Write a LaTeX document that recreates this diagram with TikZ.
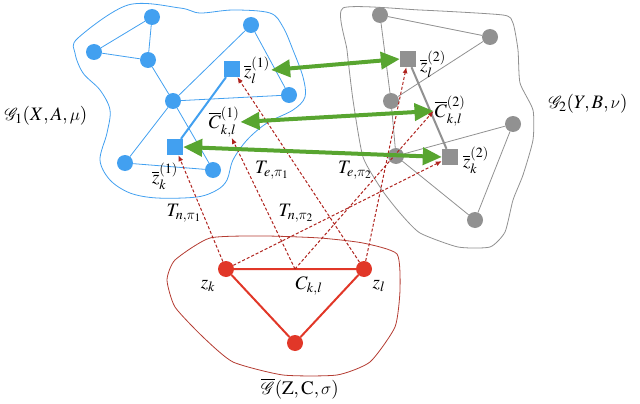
\documentclass[tikz,border=0pt]{standalone}
\usepackage{mathptmx}
\usepackage{mathrsfs}
\usetikzlibrary{arrows.meta,calc}

% italic greek letters
\DeclareSymbolFont{cmletters}{OML}{cmm}{m}{it}
\DeclareMathSymbol{\mu}{\mathord}{cmletters}{"16}
\DeclareMathSymbol{\nu}{\mathord}{cmletters}{"17}
\DeclareMathSymbol{\pi}{\mathord}{cmletters}{"19}
\DeclareMathSymbol{\sigma}{\mathord}{cmletters}{"1B}

\definecolor{gblue}{RGB}{66,160,240}
\definecolor{ggray}{RGB}{145,145,145}
\definecolor{gred}{RGB}{225,55,40}
\definecolor{ggreen}{RGB}{88,165,48}
\definecolor{gdash}{RGB}{175,35,30}
\definecolor{rline}{RGB}{180,60,50}

\tikzset{
  bnode/.style={circle,fill=gblue,inner sep=0pt,minimum size=16pt},
  bsq/.style={rectangle,fill=gblue,inner sep=0pt,minimum size=16pt},
  gnode/.style={circle,fill=ggray,inner sep=0pt,minimum size=16pt},
  gsq/.style={rectangle,fill=ggray,inner sep=0pt,minimum size=16pt},
  rnode/.style={circle,fill=gred,inner sep=0pt,minimum size=16pt},
  bedge/.style={gblue,line width=0.8pt},
  gedge/.style={ggray,line width=0.8pt},
  redge/.style={gred,line width=2pt},
  match/.style={ggreen,line width=4pt,{Triangle[length=19pt,width=17pt]}-{Triangle[length=19pt,width=17pt]}},
  transport/.style={gdash,line width=1pt,dash pattern=on 3pt off 2pt,-{Latex[length=6pt,width=5pt]}},
  lbl/.style={inner sep=1pt}
}

\begin{document}
\begin{tikzpicture}[x=1pt,y=-1pt,font=\fontsize{19}{22}\selectfont]
\useasboundingbox (0,0) rectangle (640,404);

% outlines
\draw[gblue,line width=0.8pt] plot[smooth cycle,tension=0.55] coordinates {(78,38) (128,5) (180,8) (200,13) (233,10) (270,13) (283,27) (293,50) (303,77) (305,97) (293,110) (267,123) (247,140) (233,160) (227,180) (217,190) (197,197) (157,198) (130,193) (110,180) (100,160) (107,133) (110,110) (100,90) (83,73) (75,53)};
\draw[ggray,line width=0.8pt] plot[smooth cycle,tension=0.35] coordinates {(343,8) (420,10) (503,15) (513,23) (518,50) (520,83) (533,110) (533,140) (523,175) (513,200) (505,232) (490,247) (458,247) (420,233) (400,213) (382,190) (363,157) (353,100) (347,50)};
\draw[rline,line width=0.8pt] plot[smooth cycle,tension=0.35] coordinates {(210,238) (265,236) (320,238) (363,243) (397,254) (400,290) (395,327) (370,362) (337,375) (283,375) (233,362) (203,337) (175,307) (167,280) (175,260)};

% graph 1
\node[bnode] (b1) at (152,17) {};
\node[bnode] (b2) at (94,52) {};
\node[bnode] (b3) at (148,60) {};
\node[bnode] (b4) at (251,25) {};
\node[bnode] (b5) at (173,101) {};
\node[bnode] (b6) at (289,95) {};
\node[bnode] (b7) at (125,163) {};
\node[bnode] (b8) at (213,170) {};
\node[bsq] (zl1) at (232,69) {};
\node[bsq] (zk1) at (175,147) {};
\foreach \a/\b in {b1/b2,b2/b3,b1/b3,b3/b5,b5/b4,b4/b6,b5/b6,b5/b7,b5/b8,b7/b8}
  \draw[bedge] (\a) -- (\b);
\draw[gblue,line width=2pt] (zl1) -- (zk1);

% graph 2
\node[gnode] (g1) at (380,15) {};
\node[gnode] (g2) at (490,37) {};
\node[gnode] (g3) at (391,101) {};
\node[gnode] (g4) at (513,124) {};
\node[gnode] (g5) at (396,156) {};
\node[gnode] (g6) at (475,220) {};
\node[gsq] (zl2) at (408,59) {};
\node[gsq] (zk2) at (450,157) {};
\foreach \a/\b in {g1/g2,g1/g3,g3/g2,g3/g5,g5/g4,g4/g6,g5/g6}
  \draw[gedge] (\a) -- (\b);
\draw[ggray,line width=2pt] (zl2) -- (zk2);

% barycenter
\node[rnode] (zk) at (226,269) {};
\node[rnode] (zl) at (364,269) {};
\node[rnode] (zm) at (295,343) {};
\draw[redge] (zk) -- (zl) -- (zm) -- (zk);
\coordinate (mC) at ($(zk)!0.5!(zl)$);

% labels
\node[lbl] (G1) at (46,116) {$\mathscr{G}_1(X,A,\mu)$};
\node[lbl] (G2) at (588,104) {$\mathscr{G}_2(Y,B,\nu)$};
\node[lbl] (Gb) at (300,389) {$\overline{\mathscr{G}}(\mathrm{Z},\mathrm{C},\sigma)$};
\node[lbl] (lzl1) at (257,70) {$\overline{z}^{(1)}_l$};
\node[lbl] (lC1) at (224,122) {$\overline{C}^{(1)}_{k,l}$};
\node[lbl] (lzk1) at (165,176) {$\overline{z}^{(1)}_k$};
\node[lbl] (lzl2) at (433,64) {$\overline{z}^{(2)}_l$};
\node[lbl] (lC2) at (450,111) {$\overline{C}^{(2)}_{k,l}$};
\node[lbl] (lzk2) at (476,160) {$\overline{z}^{(2)}_k$};
\node[lbl] (lzk) at (208,286) {$z_k$};
\node[lbl] (lzl) at (379,286) {$z_l$};
\node[lbl] (lC) at (309,286) {$C_{k,l}$};
\node[lbl] (Tn1) at (184,213) {$T_{n,\pi_1}$};
\node[lbl] (Tn2) at (296,213) {$T_{n,\pi_2}$};
\node[lbl] (Te1) at (272,170) {$T_{e,\pi_1}$};
\node[lbl] (Te2) at (355,170) {$T_{e,\pi_2}$};

% transport plans
\draw[transport] (zk) -- (zk1);
\draw[transport] (zk) -- (zk2);
\draw[transport] (zl) -- (zl1);
\draw[transport] (zl) -- (zl2);
\draw[transport] (mC) -- (lC1);
\draw[transport] (mC) -- (lC2.west);

% matchings
\draw[match] (lzl1.east) -- (zl2.west);
\draw[match] (lC1.east) -- (lC2.west);
\draw[match] (zk1.east) -- (zk2.west);
\end{tikzpicture}
\end{document}
